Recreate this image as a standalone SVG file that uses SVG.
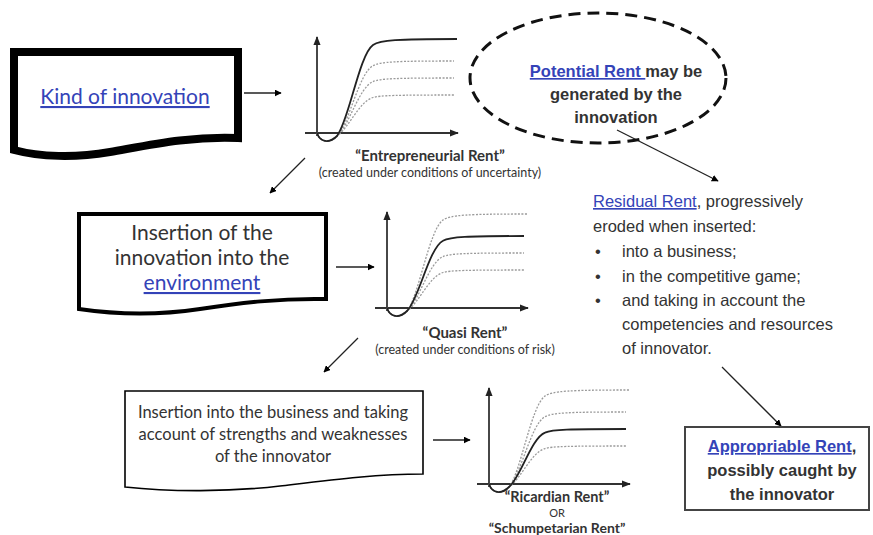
<svg xmlns="http://www.w3.org/2000/svg" xmlns:xlink="http://www.w3.org/1999/xlink" width="873" height="535" viewBox="0 0 873 535">
<style>
.bg{fill:#ffffff}
.doc{fill:#ffffff;stroke:#000000;stroke-linejoin:miter}
.cal{font-family:Lato,"Open Sans","Liberation Sans",sans-serif;fill:#333333}
.ari{font-family:"Liberation Sans",Arial,sans-serif;fill:#333333}
.bold{font-weight:bold}
.link{fill:#3443b8;text-decoration:underline}
.conn{stroke:#222222;stroke-width:1.3;fill:none;marker-end:url(#ah)}
.axis{stroke:#333333;stroke-width:1.8;fill:none}
.solid{stroke:#222222;stroke-width:1.8;fill:none}
.dot{stroke:#9a9a9a;stroke-width:1.3;stroke-dasharray:2 1.5;fill:none}
</style>
<defs>
<marker id="ah" viewBox="0 0 10 10" refX="9" refY="5" markerWidth="7" markerHeight="7" markerUnits="userSpaceOnUse" orient="auto">
<path d="M0,0 L10,5 L0,10 Z" fill="#000000"/>
</marker>
<marker id="ax" viewBox="0 0 10 10" refX="9" refY="5" markerWidth="9" markerHeight="9" markerUnits="userSpaceOnUse" orient="auto">
<path d="M0,1 L10,5 L0,9 Z" fill="#222222"/>
</marker>
<path id="l94" d="M0,0 C3,9 12,11 20,3 C32,-12 42,-78 56,-88 C63,-93 80,-94 140,-94"/>
<path id="l72" d="M0,0 C3,9 12,11 20,3 C32,-9 42,-60 56,-67.3 C63,-71.3 80,-72 137,-72"/>
<path id="l55" d="M0,0 C3,9 12,11 20,3 C32,-7 42,-45.7 56,-51.4 C63,-54.5 80,-55 137,-55"/>
<path id="l38" d="M0,0 C3,9 12,11 20,3 C32,-5 42,-31.5 56,-35.5 C63,-37.6 80,-38 137,-38"/>
<g id="axes">
<line class="axis" x1="0" y1="3" x2="0" y2="-96" marker-end="url(#ax)"/>
<line class="axis" x1="-12" y1="0" x2="141" y2="0" marker-end="url(#ax)"/>
</g>
</defs>
<rect class="bg" x="0" y="0" width="873" height="535"/>

<g id="connectors">
<line class="conn" x1="244" y1="93" x2="281" y2="93"/>
<line class="conn" x1="305" y1="158" x2="270" y2="193"/>
<line class="conn" x1="336" y1="267" x2="374" y2="267"/>
<line class="conn" x1="358" y1="338" x2="324" y2="372"/>
<line class="conn" x1="433" y1="440" x2="470" y2="440"/>
<line class="conn" x1="617" y1="130" x2="718" y2="181"/>
<line class="conn" x1="722" y1="367" x2="781" y2="426"/>
</g>

<g id="kind-of-innovation">
<path class="doc" stroke-width="8" d="M14,52 H238 V138 C190,136 150,145 110,152 C75,158 40,157 14,150 Z"/>
<text class="cal link" x="125" y="104" font-size="21" text-anchor="middle">Kind of innovation</text>
</g>

<g id="chart-entrepreneurial">
<g transform="translate(317,133)">
<use xlink:href="#axes"/>
<use xlink:href="#l72" class="dot"/>
<use xlink:href="#l55" class="dot"/>
<use xlink:href="#l38" class="dot"/>
<use xlink:href="#l94" class="solid"/>
</g>
<text class="cal bold" x="430" y="161" font-size="15" text-anchor="middle">“Entrepreneurial Rent”</text>
<text class="cal" x="430" y="177" font-size="12.5" text-anchor="middle">(created under conditions of uncertainty)</text>
</g>

<g id="potential-rent">
<ellipse cx="598" cy="78" rx="128" ry="65" fill="none" stroke="#111111" stroke-width="3" stroke-dasharray="12 7"/>
<text class="ari bold" font-size="16.5" text-anchor="middle"><tspan x="616" y="77"><tspan class="link">Potential Rent </tspan>may be</tspan><tspan x="616" y="100">generated by the</tspan><tspan x="616" y="123">innovation</tspan></text>
</g>

<g id="insertion-environment">
<path class="doc" stroke-width="4" d="M79,214 H326 V299 C280,298 240,303 200,309 C160,315 120,315 79,309 Z"/>
<text class="cal" font-size="21" text-anchor="middle"><tspan x="202" y="240">Insertion of the</tspan><tspan x="202" y="265">innovation into the</tspan><tspan x="202" y="290" class="link">environment</tspan></text>
</g>

<g id="chart-quasi">
<g transform="translate(387,308)">
<use xlink:href="#axes"/>
<use xlink:href="#l94" class="dot"/>
<use xlink:href="#l55" class="dot"/>
<use xlink:href="#l38" class="dot"/>
<use xlink:href="#l72" class="solid"/>
</g>
<text class="cal bold" x="465" y="338" font-size="15" text-anchor="middle">“Quasi Rent”</text>
<text class="cal" x="465" y="354" font-size="12.5" text-anchor="middle">(created under conditions of risk)</text>
</g>

<g id="insertion-business">
<path class="doc" stroke="#555555" stroke-width="1.6" d="M125,391 H423 V474 C375,474 330,480 280,486 C230,492 170,492 125,487 Z"/>
<text class="cal" font-size="16.5" text-anchor="middle"><tspan x="273" y="418">Insertion into the business and taking</tspan><tspan x="273" y="440">account of strengths and weaknesses</tspan><tspan x="273" y="462">of the innovator</tspan></text>
</g>

<g id="chart-ricardian">
<g transform="translate(489,484)">
<use xlink:href="#axes"/>
<use xlink:href="#l94" class="dot"/>
<use xlink:href="#l72" class="dot"/>
<use xlink:href="#l38" class="dot"/>
<use xlink:href="#l55" class="solid"/>
</g>
<text class="cal bold" x="557" y="502" font-size="14.5" text-anchor="middle">“Ricardian Rent”</text>
<text class="cal" x="557" y="517" font-size="11" text-anchor="middle">OR</text>
<text class="cal bold" x="557" y="533" font-size="14" text-anchor="middle">“Schumpetarian Rent”</text>
</g>

<g id="residual-rent">
<text class="ari" font-size="16.5"><tspan x="593" y="207"><tspan class="link">Residual Rent</tspan>, progressively</tspan><tspan x="593" y="232">eroded when inserted:</tspan></text>
<text class="ari" font-size="16.5"><tspan x="595" y="257">•</tspan><tspan x="622" y="257">into a business;</tspan><tspan x="595" y="282">•</tspan><tspan x="622" y="282">in the competitive game;</tspan><tspan x="595" y="306">•</tspan><tspan x="622" y="306">and taking in account the</tspan><tspan x="622" y="330">competencies and resources</tspan><tspan x="622" y="354">of innovator.</tspan></text>
</g>

<g id="appropriable-rent">
<rect x="685" y="427" width="184" height="83" fill="#ffffff" stroke="#444444" stroke-width="2"/>
<text class="ari bold" font-size="16.5" text-anchor="middle"><tspan x="782" y="452"><tspan class="link">Appropriable Rent</tspan>,</tspan><tspan x="782" y="476">possibly caught by</tspan><tspan x="782" y="500">the innovator</tspan></text>
</g>
</svg>
